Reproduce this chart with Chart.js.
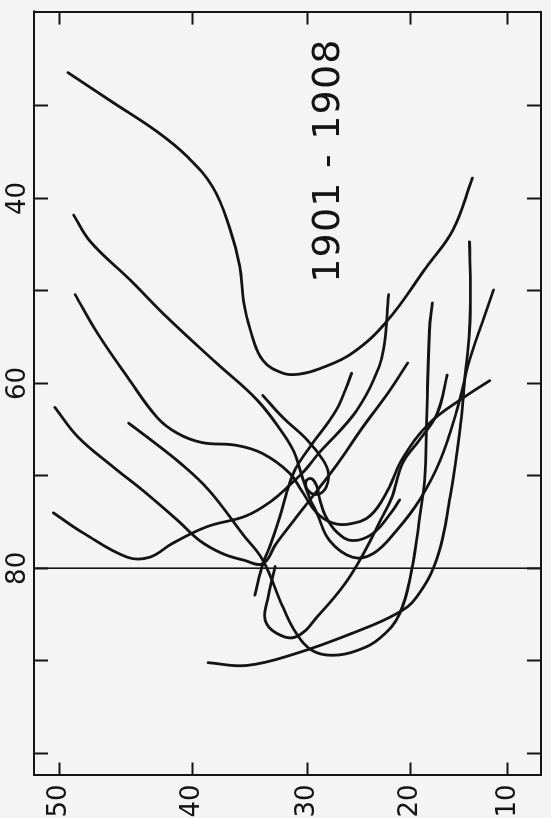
<!DOCTYPE html>
<html><head><meta charset="utf-8">
<script src="https://cdn.jsdelivr.net/npm/chart.js@4.4.1/dist/chart.umd.min.js"></script>
<style>
html,body{margin:0;padding:0;background:#f4f4f4;width:551px;height:818px;overflow:hidden;}
#wrap{position:absolute;left:0;top:0;width:818px;height:551px;transform-origin:0 0;transform:translate(0,818px) rotate(-90deg);}
canvas{display:block;}
</style></head><body>
<div id="wrap"><canvas id="c" width="818" height="551"></canvas></div>
<script>
const TITLE = '1901 - 1908';
const LAT_TICKS = [10, 20, 30, 40, 50];
const LON_TICKS = [30, 40, 50, 60, 70, 80, 90, 100];
const LON_LABELS = [40, 60, 80];
const LON_MIN = 19.8, LON_MAX = 102.4, LAT_MIN = 6.5, LAT_MAX = 51.7;

// Storm tracks: longitude (deg W) and latitude (deg N)
const trackA_lon = [26.4, 29.6, 32.8, 35.5, 38.8, 43.1, 47.4, 51.0, 54.2, 57.5, 58.9, 59.0, 58.4, 56.7, 53.2, 47.4, 43.4, 37.8];
const trackA_lat = [49.4, 46.2, 42.8, 40.4, 38.3, 36.9, 36.0, 35.7, 35.1, 34.0, 32.2, 30.7, 28.8, 25.7, 22.3, 18.4, 15.7, 13.7];

const trackB_lon = [41.8, 44.7, 48.8, 52.9, 57.8, 61.8, 65.4, 67.4, 69.9, 72.3, 74.0, 77.0, 78.8, 78.4, 75.9, 72.6, 68.3, 62.9, 57.5, 53.2, 49.9];
const trackB_lat = [49.0, 47.8, 44.9, 42.0, 38.0, 34.5, 32.2, 31.2, 30.5, 29.8, 29.1, 27.9, 25.7, 23.7, 21.4, 19.1, 17.0, 15.3, 14.0, 12.6, 11.5];

const trackC_lon = [50.4, 54.6, 59.3, 63.7, 65.4, 66.4, 66.7, 67.6, 69.7, 71.6, 74.0, 75.1, 75.2, 74.3, 71.6, 68.1, 64.3, 61.6, 59.7];
const trackC_lat = [48.9, 47.3, 45.1, 42.8, 41.2, 39.2, 36.3, 34.0, 31.6, 30.5, 29.1, 27.6, 26.0, 24.0, 22.3, 20.8, 18.1, 14.7, 11.9];

const trackD_lon = [62.6, 65.8, 69.1, 71.6, 74.8, 77.0, 78.4, 79.1, 79.5, 77.3, 74.5, 71.2, 68.3, 64.7, 61.1, 57.8];
const trackD_lat = [50.3, 48.7, 46.1, 43.9, 41.2, 39.4, 37.5, 35.7, 34.0, 32.8, 31.0, 28.8, 26.9, 24.7, 22.3, 20.3];

const trackE_lon = [74.0, 76.2, 78.8, 78.8, 77.3, 75.5, 74.3, 72.6, 71.0, 69.4, 67.4, 65.1, 62.9, 59.7, 56.4, 50.4];
const trackE_lat = [50.4, 48.3, 45.1, 43.4, 41.6, 38.8, 35.4, 33.1, 31.6, 30.2, 28.8, 26.9, 25.3, 23.7, 22.7, 22.2];

const trackF_lon = [64.3, 65.8, 68.6, 71.6, 76.4, 79.1, 84.2, 87.0, 88.9, 89.4, 88.9, 87.5, 84.9, 80.2, 74.5, 70.5, 64.0, 54.2, 51.3];
const trackF_lat = [45.0, 43.6, 41.0, 38.6, 35.7, 34.0, 32.2, 31.0, 29.5, 27.6, 25.3, 23.0, 21.1, 19.9, 19.1, 18.6, 18.4, 18.1, 17.8];

const trackG_lon = [90.2, 90.5, 89.2, 87.0, 84.9, 83.1, 78.8, 72.3, 65.1, 59.7, 54.2, 49.9, 44.7];
const trackG_lat = [38.7, 35.4, 31.0, 25.7, 21.4, 19.4, 17.3, 16.0, 15.0, 14.5, 14.0, 13.9, 14.0];

const trackH_lon = [82.9, 79.5, 77.7, 74.5, 70.8, 69.1, 66.5, 64.0, 62.1, 58.9];
const trackH_lat = [34.7, 34.0, 33.4, 32.5, 31.6, 31.0, 29.5, 27.9, 26.9, 25.8];

const trackI_lon = [61.3, 63.7, 66.1, 68.3, 69.7, 71.2, 72.0, 71.6, 70.6, 70.3, 71.1, 72.6, 74.3, 76.1, 77.0, 76.2, 73.9, 72.6];
const trackI_lat = [34.0, 32.2, 30.0, 28.5, 28.0, 28.2, 29.0, 29.9, 30.1, 29.6, 29.1, 28.8, 28.3, 27.2, 25.7, 23.7, 21.9, 21.1];

const trackJ_lon = [79.8, 83.5, 85.6, 87.0, 87.4, 84.9, 81.6, 78.1, 74.8, 72.4, 68.6, 66.1, 63.2, 59.1];
const trackJ_lat = [32.9, 33.6, 33.8, 32.8, 31.0, 28.8, 26.4, 24.5, 23.0, 21.9, 20.8, 19.1, 17.3, 16.3];

const TRACKS = [
  [trackA_lon, trackA_lat], [trackB_lon, trackB_lat], [trackC_lon, trackC_lat],
  [trackD_lon, trackD_lat], [trackE_lon, trackE_lat], [trackF_lon, trackF_lat],
  [trackG_lon, trackG_lat], [trackH_lon, trackH_lat], [trackI_lon, trackI_lat],
  [trackJ_lon, trackJ_lat]
];

const INK = '#141414';
const CLEAR = 'rgba(0,0,0,0)';
const FONT = 'DejaVu Sans';

function merc(lat) { const r = lat * Math.PI / 180; return Math.log(Math.tan(Math.PI / 4 + r / 2)); }
function invMerc(m) { return (2 * Math.atan(Math.exp(m)) - Math.PI / 2) * 180 / Math.PI; }

class MercatorScale extends Chart.LinearScale {
  getPixelForValue(value) {
    const a = merc(this.min), b = merc(this.max);
    return this.getPixelForDecimal((merc(value) - a) / (b - a));
  }
  getValueForPixel(pixel) {
    const a = merc(this.min), b = merc(this.max);
    return invMerc(a + this.getDecimalForPixel(pixel) * (b - a));
  }
}
MercatorScale.id = 'mercator';
MercatorScale.defaults = Chart.LinearScale.defaults;
Chart.register(MercatorScale);

const datasets = TRACKS.map(([lon, lat]) => ({
  data: lon.map((x, i) => ({ x: x, y: lat[i] })),
  showLine: true, fill: false, pointRadius: 0, pointHoverRadius: 0,
  borderColor: INK, borderWidth: 2.8, tension: 0.4,
  borderCapStyle: 'round', borderJoinStyle: 'round'
}));

const border = { display: true, color: INK, width: 2 };
const lonTicks = s => { s.ticks = LON_TICKS.map(v => ({ value: v })); };
const latTicks = s => { s.ticks = LAT_TICKS.map(v => ({ value: v })); };

const titlePlugin = {
  id: 'titleText',
  afterDraw(chart) {
    const { ctx, chartArea } = chart;
    ctx.save();
    ctx.font = '38px "' + FONT + '"';
    ctx.fillStyle = INK;
    ctx.textAlign = 'center';
    ctx.textBaseline = 'middle';
    try { ctx.letterSpacing = '1.2px'; } catch (e) {}
    ctx.fillText(TITLE, chartArea.right - 149, chartArea.top + 295);
    ctx.restore();
  }
};

new Chart(document.getElementById('c'), {
  type: 'scatter',
  data: { datasets },
  options: {
    responsive: false,
    animation: false,
    devicePixelRatio: 1,
    layout: { padding: { left: 0, top: 0, right: 11.6, bottom: 10 } },
    plugins: { legend: { display: false }, tooltip: { enabled: false } },
    scales: {
      x: {
        type: 'linear', position: 'top', weight: 1, reverse: true, min: LON_MIN, max: LON_MAX,
        afterBuildTicks: lonTicks,
        afterFit: s => { s.height = 34; },
        ticks: { autoSkip: false, maxRotation: 0, minRotation: 0, padding: 0, color: INK,
                 font: { family: FONT, size: 26 },
                 callback: v => LON_LABELS.includes(v) ? String(v) : '' },
        grid: { drawOnChartArea: true, drawTicks: false, lineWidth: 1.6,
                color: c => (c.tick && c.tick.value === 80) ? INK : CLEAR },
        border: border
      },
      xTicks: {
        type: 'linear', position: 'top', weight: 0, reverse: true, min: LON_MIN, max: LON_MAX,
        afterBuildTicks: lonTicks,
        afterFit: s => { s.height = 0; },
        ticks: { display: false, autoSkip: false },
        grid: { drawOnChartArea: false, tickColor: INK, tickWidth: 2, tickLength: -14 },
        border: border
      },
      x2: {
        type: 'linear', position: 'bottom', reverse: true, min: LON_MIN, max: LON_MAX,
        afterBuildTicks: lonTicks,
        afterFit: s => { s.height = 0; },
        ticks: { display: false, autoSkip: false },
        grid: { drawOnChartArea: false, tickColor: INK, tickWidth: 2, tickLength: -14 },
        border: border
      },
      y: {
        type: 'mercator', position: 'left', weight: 1, min: LAT_MIN, max: LAT_MAX,
        afterBuildTicks: latTicks,
        afterFit: s => { s.width = 42.5; },
        ticks: { autoSkip: false, padding: 0, color: INK,
                 font: { family: FONT, size: 26, lineHeight: 0.76 }, callback: v => String(v) },
        grid: { drawOnChartArea: false, drawTicks: true, tickLength: 9, tickColor: CLEAR, color: CLEAR },
        border: border
      },
      yTicks: {
        type: 'mercator', position: 'left', weight: 0, min: LAT_MIN, max: LAT_MAX,
        afterBuildTicks: latTicks,
        afterFit: s => { s.width = 0; },
        ticks: { display: false, autoSkip: false },
        grid: { drawOnChartArea: false, tickColor: INK, tickWidth: 2, tickLength: -13 },
        border: border
      },
      y2: {
        type: 'mercator', position: 'right', min: LAT_MIN, max: LAT_MAX,
        afterBuildTicks: latTicks,
        afterFit: s => { s.width = 0; },
        ticks: { display: false, autoSkip: false },
        grid: { drawOnChartArea: false, tickColor: INK, tickWidth: 2, tickLength: -13 },
        border: border
      }
    }
  },
  plugins: [titlePlugin]
});
</script>
</body></html>
